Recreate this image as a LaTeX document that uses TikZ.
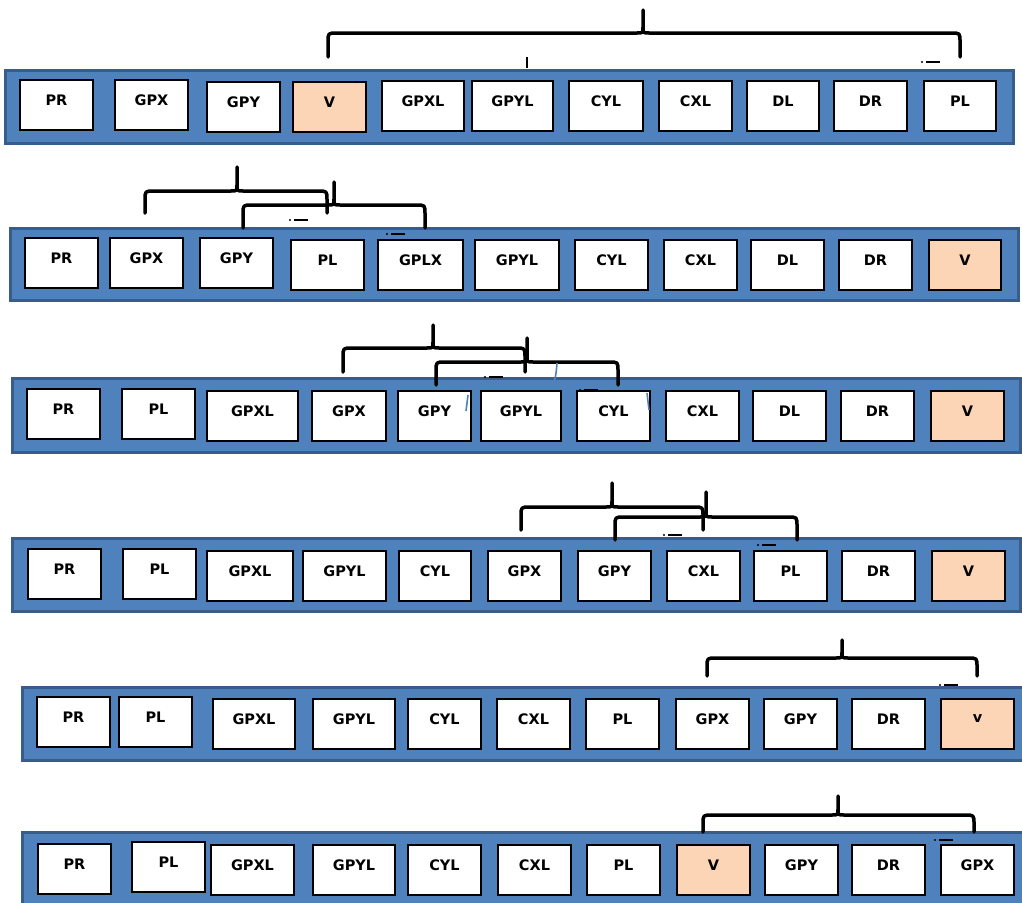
\documentclass[tikz,border=0pt]{standalone}
\usepackage{fontspec}
\setmainfont{DejaVu Sans}
\definecolor{barblue}{HTML}{4F81BD}
\definecolor{bardark}{HTML}{385D8A}
\definecolor{vfill}{HTML}{FBD5B5}
\tikzset{
  bar/.style={draw=bardark, fill=barblue, line width=3pt, rectangle, inner sep=0pt},
  cell/.style={draw=black, line width=1.1pt, rectangle, inner sep=0pt},
  lbl/.style={font=\bfseries\fontsize{14.5}{16}\selectfont, inner sep=0pt},
  bracepath/.style={draw=black, line width=3.5pt, line cap=round, line join=round},
  markline/.style={draw=black, line width=1.6pt},
  thinblue/.style={draw=barblue, line width=1.6pt}
}
% row of cells: #1 = row prefix, #2 = list x1/x2/y1/y2/text/fill
\newcommand\cellrow[2]{%
  \foreach \xa/\xb/\ya/\yb/\t/\f [count=\i] in {#2} {
    \node[cell, fill=\f, minimum width={(\xb-\xa)*1pt}, minimum height={(\yb-\ya)*1pt}]
      (#1b\i) at ({(\xa+\xb)/2},{(\ya+\yb)/2}) {};
    \node[lbl] (#1t\i) at ([yshift=5pt]#1b\i.center) {\t};
  }%
}
% curly brace: x1, x2, xm, ytop, ytip, ypeak
\newcommand\curly[6]{%
  \draw[bracepath] (#1,#5) -- (#1,#4+9) .. controls (#1,#4) .. (#1+9,#4)
    -- (#3-6,#4) .. controls (#3,#4) .. (#3,#4-6) -- (#3,#6)
    -- (#3,#4-6) .. controls (#3,#4) .. (#3+6,#4)
    -- (#2-9,#4) .. controls (#2,#4) .. (#2,#4+9) -- (#2,#5);%
}
% small dot-dash mark at x,y
\newcommand\dotdash[2]{%
  \fill (#1,#2) circle (1.2pt);
  \draw[markline] (#1+4,#2) -- (#1+18,#2);%
}
\begin{document}
\begin{tikzpicture}[x=1pt,y=-1pt]
\useasboundingbox (0,0) rectangle (1022,902);
\clip (0,0) rectangle (1022,902);
\fill[white] (0,0) rectangle (1022,902);

% ---------- Row 1 ----------
\node[bar, minimum width=1008pt, minimum height=73pt] (bar1) at (509,106.5) {};
\cellrow{r1}{20/93/80/130/PR/white, 115/188/80/130/GPX/white, 207/280/82/132/GPY/white,
  293/366/82/132/V/vfill, 382/464/81/131/GPXL/white, 472/553/81/131/GPYL/white,
  569/643/81/131/CYL/white, 659/732/81/131/CXL/white, 747/819/81/131/DL/white,
  834/907/81/131/DR/white, 924/996/81/131/PL/white}
\curly{328}{960}{643}{33}{57}{10}
\draw[markline] (527,57) -- (527,68);
\dotdash{922}{62}

% ---------- Row 2 ----------
\node[bar, minimum width=1008pt, minimum height=72pt] (bar2) at (514,264) {};
\cellrow{r2}{25/98/238/288/PR/white, 110/183/238/288/GPX/white, 200/273/238/288/GPY/white,
  291/364/240/290/PL/white, 378/463/240/290/GPLX/white, 475/559/240/290/GPYL/white,
  575/648/240/290/CYL/white, 664/737/240/290/CXL/white, 751/824/240/290/DL/white,
  839/912/240/290/DR/white, 929/1001/240/290/V/vfill}
\curly{145}{327}{237}{191}{213}{167}
\curly{243}{425}{334}{205}{228}{182}
\dotdash{290}{220}
\dotdash{387}{234}

% ---------- Row 3 ----------
\node[bar, minimum width=1008pt, minimum height=74pt] (bar3) at (516,415) {};
\cellrow{r3}{27/100/389/439/PR/white, 122/195/389/439/PL/white, 207/298/391/441/GPXL/white,
  312/386/391/441/GPX/white, 398/471/391/441/GPY/white, 481/561/391/441/GPYL/white,
  577/650/391/441/CYL/white, 666/739/391/441/CXL/white, 753/826/391/441/DL/white,
  841/914/391/441/DR/white, 931/1004/391/441/V/vfill}
\curly{343}{525}{433}{348}{372}{325}
\curly{436}{618}{527}{362}{385}{338}
\dotdash{485}{377}
\dotdash{580}{390}
\draw[thinblue] (557,363) .. controls (556,375) .. (553,386);
\draw[thinblue] (468,395) .. controls (467,403) .. (466,411);
\draw[thinblue] (647,393) .. controls (648,401) .. (649,410);

% ---------- Row 4 ----------
\node[bar, minimum width=1008pt, minimum height=73pt] (bar4) at (516,574.5) {};
\cellrow{r4}{28/101/549/599/PR/white, 123/196/549/599/PL/white, 207/293/551/601/GPXL/white,
  303/386/551/601/GPYL/white, 399/471/551/601/CYL/white, 488/561/551/601/GPX/white,
  578/651/551/601/GPY/white, 667/740/551/601/CXL/white, 754/827/551/601/PL/white,
  842/915/551/601/DR/white, 932/1005/551/601/V/vfill}
\curly{521}{703}{612}{507}{530}{483}
\curly{615}{797}{706}{517}{540}{492}
\dotdash{664}{535}
\dotdash{758}{545}

% ---------- Row 5 ----------
\node[bar, minimum width=1010pt, minimum height=73pt] (bar5) at (527,723.5) {};
\cellrow{r5}{37/110/697/747/PR/white, 119/192/697/747/PL/white, 213/295/699/749/GPXL/white,
  313/395/699/749/GPYL/white, 408/481/699/749/CYL/white, 497/570/699/749/CXL/white,
  586/659/699/749/PL/white, 676/749/699/749/GPX/white, 764/837/699/749/GPY/white,
  852/925/699/749/DR/white, 941/1014/699/749/v/vfill}
\curly{707}{977}{842}{658}{676}{640}
\dotdash{940}{685}

% ---------- Row 6 ----------
\node[bar, minimum width=1010pt, minimum height=78pt] (bar6) at (527,871) {};
\cellrow{r6}{38/111/844/894/PR/white, 132/205/842/892/PL/white, 211/294/845/895/GPXL/white,
  313/395/845/895/GPYL/white, 408/481/845/895/CYL/white, 498/571/845/895/CXL/white,
  587/660/845/895/PL/white, 677/750/845/895/V/vfill, 765/838/845/895/GPY/white,
  852/925/845/895/DR/white, 941/1014/845/895/GPX/white}
\curly{703}{974}{838}{815}{832}{796}
\dotdash{935}{840}
\end{tikzpicture}
\end{document}
